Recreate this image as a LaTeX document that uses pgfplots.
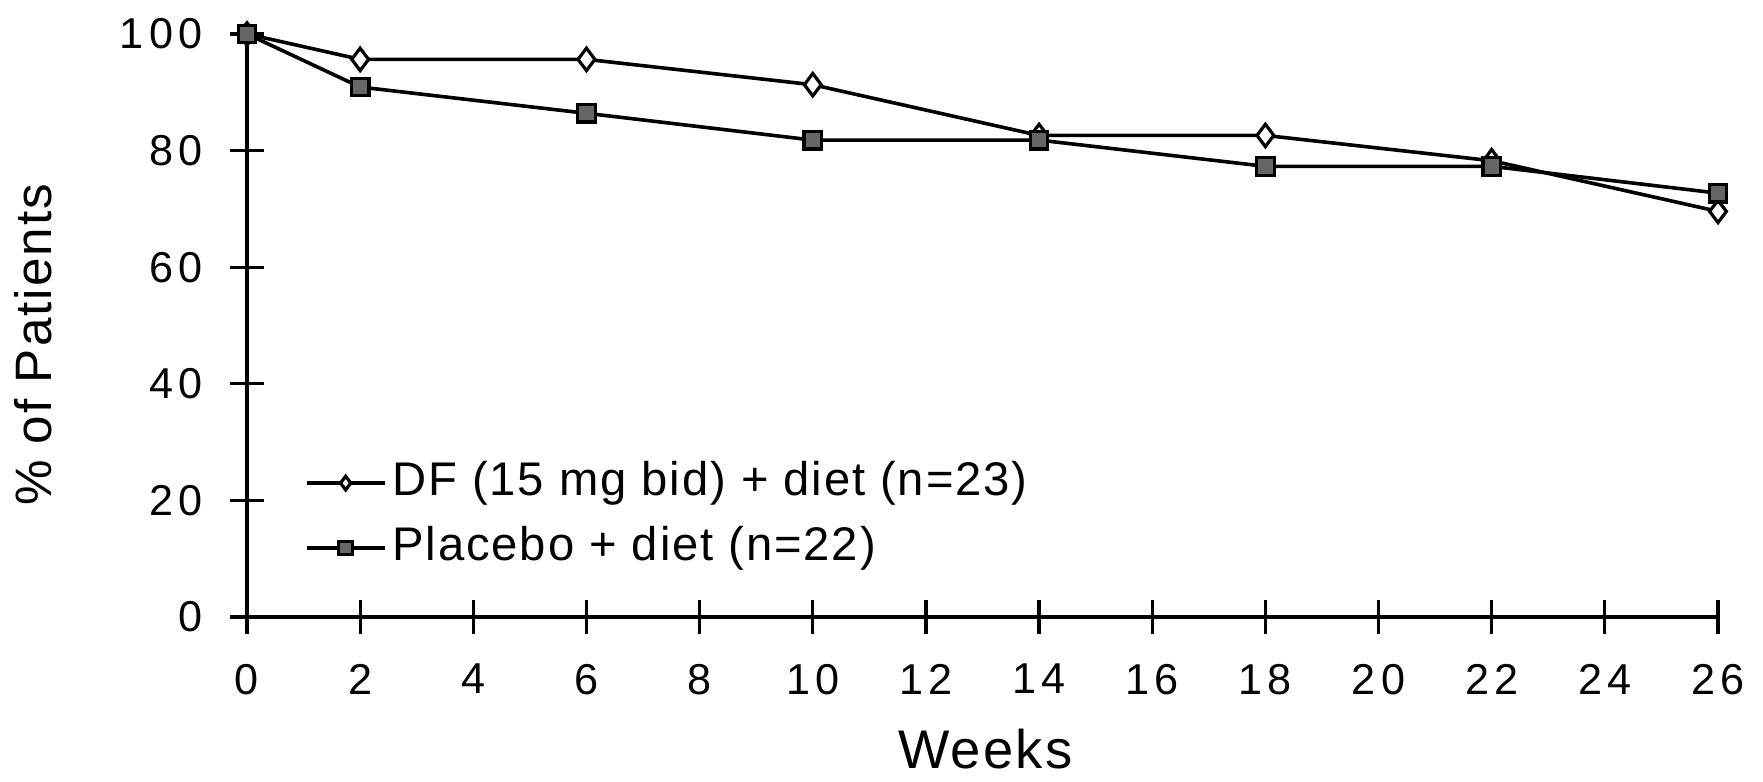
\documentclass[border=0pt]{standalone}
\usepackage{fontspec}
\setmainfont{Liberation Sans}
\newfontfamily\tickfont{Liberation Sans}[LetterSpace=12]
\newfontfamily\labfont{Liberation Sans}[LetterSpace=4]
\usepackage{pgfplots}
\pgfplotsset{compat=1.18}
\begin{document}
\begin{tikzpicture}
\begin{axis}[
  scale only axis,
  width=367.75pt, height=145.75pt,
  xmin=0, xmax=26, ymin=0, ymax=100,
  axis x line=bottom, axis y line=left,
  axis line style={-, line width=0.8pt},
  clip=false,
  xtick={0,2,...,26}, ytick={0,20,...,100},
  tick align=center, major tick length=8.5pt,
  tick style={black, line width=0.8pt},
  /pgf/number format/assume math mode=true,
  xticklabel style={font=\tickfont\fontsize{10.8}{12}\selectfont, yshift=-4pt},
  yticklabel style={font=\tickfont\fontsize{10.8}{12}\selectfont, xshift=-3.4pt},
  xlabel={Weeks},
  ylabel={\% of Patients},
  xlabel style={font=\labfont\fontsize{13.6}{15}\selectfont, at={(axis description cs:0.502,-0.226)}, anchor=center, inner sep=0pt},
  ylabel style={font=\labfont\fontsize{12.8}{14}\selectfont, at={(axis description cs:-0.1455,0.467)}, anchor=center, inner sep=0pt},
  legend style={at={(axis description cs:0.0388,0.174)}, anchor=west, draw=none, fill=none,
    font=\labfont\fontsize{11.8}{13}\selectfont, inner sep=0pt, row sep=5.25pt,
    nodes={inner sep=0pt, text height=8.5pt, text depth=2.5pt},
    /tikz/every odd column/.style={column sep=1.5pt}},
  legend cell align=left,
  legend image code/.code={\draw[mark repeat=2,mark phase=2, mark size=1.7pt] plot coordinates {(0pt,0pt) (9.75pt,0pt) (19.5pt,0pt)};},
]
\coordinate (O) at (axis cs:0,0);
\addplot[black, line width=0.9pt, mark=diamond*, mark size=2.8pt, mark options={fill=white, line width=0.8pt}]
  coordinates {(0,100) (2,95.65) (6,95.65) (10,91.3) (14,82.6) (18,82.6) (22,78.26) (26,69.57)};
\addlegendentry{DF (15 mg bid) + diet (n=23)}
\addplot[black, line width=0.9pt, mark=square*, mark size=2.2pt, mark options={fill=black!60, line width=0.8pt}]
  coordinates {(0,100) (2,90.9) (6,86.4) (10,81.8) (14,81.8) (18,77.3) (22,77.3) (26,72.7)};
\addlegendentry{Placebo + diet (n=22)}
\end{axis}
\pgfresetboundingbox
\path (O) ++(-61.75pt,-41pt) rectangle ++(440.75pt,195.25pt);
\end{tikzpicture}
\end{document}
